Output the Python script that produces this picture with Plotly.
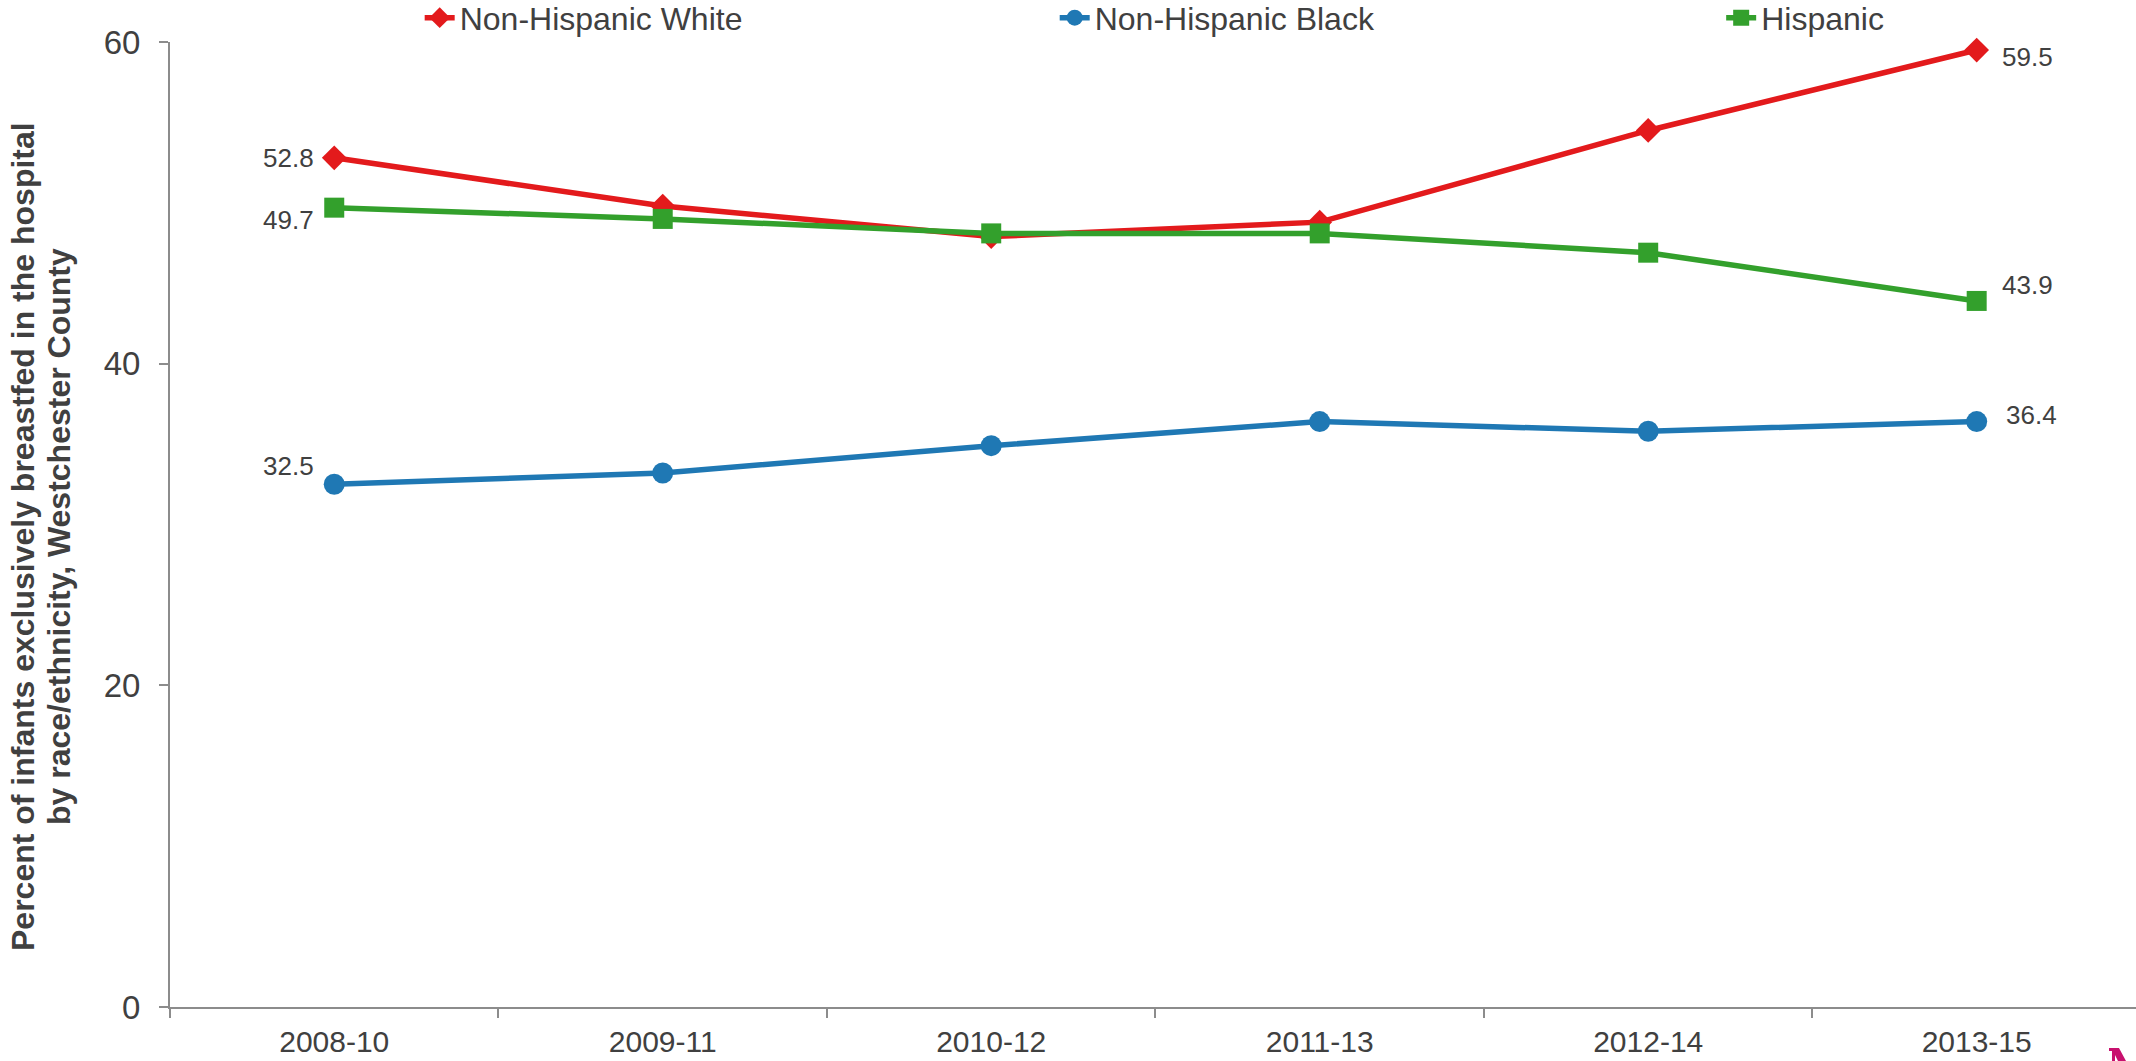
import plotly.graph_objects as go

# Three-year periods and exclusive breastfeeding rates (%) by race/ethnicity
periods = ["2008-10", "2009-11", "2010-12", "2011-13", "2012-14", "2013-15"]
white = [52.8, 49.8, 47.9, 48.8, 54.5, 59.5]
black = [32.5, 33.2, 34.9, 36.4, 35.8, 36.4]
hispanic = [49.7, 49.0, 48.1, 48.1, 46.9, 43.9]
y_ticks = [0, 20, 40, 60]

RED = "#E31A1C"
BLUE = "#1F78B4"
GREEN = "#33A02C"
TEXT = "#404040"
AXIS = "#8C8C8C"
NARROW = "Liberation Sans Narrow, Arial Narrow, Liberation Sans, Arial, sans-serif"
REGULAR = "Liberation Sans, Arial, sans-serif"

W, H = 2136, 1061
L, R, T, B = 170, 0, 42, 54

fig = go.Figure()

series = [
    ("Non-Hispanic White", white, RED, "diamond", 19, "legend"),
    ("Non-Hispanic Black", black, BLUE, "circle", 21, "legend2"),
    ("Hispanic", hispanic, GREEN, "square", 20, "legend3"),
]
for name, vals, color, symbol, msize, leg in series:
    fig.add_trace(go.Scatter(
        x=periods, y=vals, name=name, mode="lines+markers",
        line=dict(color=color, width=5.5),
        marker=dict(symbol=symbol, size=msize, color=color),
        legend=leg, cliponaxis=False,
    ))

# Value labels at the first and last period of each series
label_font = dict(family=REGULAR, size=26, color=TEXT)
first_shift = {"Non-Hispanic White": 0, "Non-Hispanic Black": 18, "Hispanic": -12}
last_shift = {"Non-Hispanic White": -7, "Non-Hispanic Black": 7, "Hispanic": 16}
last_x = {"Non-Hispanic White": 23, "Non-Hispanic Black": 27, "Hispanic": 23}
for name, vals, *_ in series:
    fig.add_annotation(x=periods[0], y=vals[0], text=f"{vals[0]:.1f}",
                       showarrow=False, xanchor="right", yanchor="middle",
                       xshift=-18, yshift=first_shift[name], font=label_font)
    fig.add_annotation(x=periods[-1], y=vals[-1], text=f"{vals[-1]:.1f}",
                       showarrow=False, xanchor="left", yanchor="middle",
                       xshift=last_x[name], yshift=last_shift[name], font=label_font)


def px_to_paper(px, py):
    """Convert page pixel position to paper coordinates of the plot area."""
    return (px - L) / (W - L - R), (H - B - py) / (H - T - B)


# Vertical axis title, two lines
title_font = dict(family=REGULAR, size=32, color=TEXT, weight="bold")
for text, px in [("Percent of infants exclusively breastfed in the hospital", 23),
                 ("by race/ethnicity, Westchester County", 59)]:
    fx, fy = px_to_paper(px, 537)
    fig.add_annotation(
        xref="paper", yref="paper", x=fx, y=fy, textangle=-90,
        text=text, showarrow=False, font=title_font,
        xanchor="center", yanchor="middle",
    )

# Small clipped logo fragment in the lower right corner
corner = [(2109, 1048), (2119, 1048), (2126, 1061), (2118, 1061), (2115, 1055),
          (2115, 1061), (2112, 1061), (2112, 1051), (2109, 1051)]
path = "M " + " L ".join("{:.5f},{:.5f}".format(*px_to_paper(x, y)) for x, y in corner) + " Z"
fig.add_shape(type="path", xref="paper", yref="paper", path=path,
              fillcolor="#C8106E", line=dict(width=0), layer="above")

legend_common = dict(orientation="h", yanchor="middle", xanchor="left", y=1.025,
                     font=dict(family=NARROW, size=32, color=TEXT),
                     bgcolor="rgba(0,0,0,0)", borderwidth=0)

fig.update_layout(
    width=W, height=H,
    margin=dict(l=L, r=R, t=T, b=B, autoexpand=False),
    paper_bgcolor="white", plot_bgcolor="white",
    showlegend=True,
    legend=dict(x=0.127, **legend_common),
    legend2=dict(x=0.450, **legend_common),
    legend3=dict(x=0.789, **legend_common),
    xaxis=dict(
        type="category", range=[-0.5, 5.485], tickson="boundaries",
        showline=True, linecolor=AXIS, linewidth=2,
        ticks="outside", ticklen=9, tickcolor=AXIS, tickwidth=1.5,
        showgrid=False, zeroline=False,
        tickfont=dict(family=NARROW, size=30, color=TEXT),
        ticklabelstandoff=7,
    ),
    yaxis=dict(
        range=[0, 60], tickvals=y_ticks,
        showline=True, linecolor=AXIS, linewidth=2,
        ticks="outside", ticklen=9, tickcolor=AXIS, tickwidth=1.5,
        showgrid=False, zeroline=False,
        tickfont=dict(family=NARROW, size=33, color=TEXT),
        ticklabelstandoff=12,
    ),
)

fig.write_html("out.html")
